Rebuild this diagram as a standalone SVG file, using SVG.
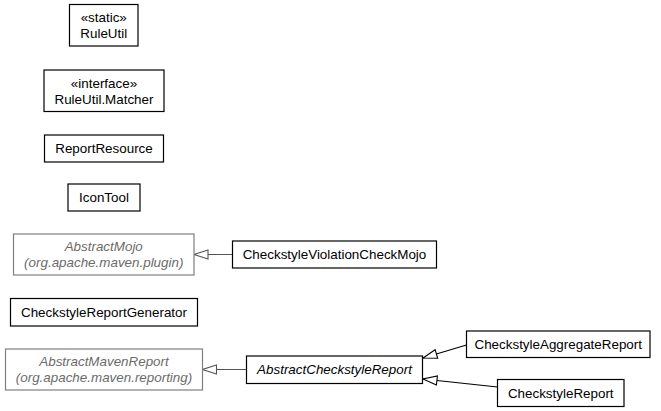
<svg xmlns="http://www.w3.org/2000/svg" width="661" height="411" viewBox="0 0 661 411">
<style>
.b{fill:#fff;stroke:#000;stroke-width:1.2}
.g{fill:#fff;stroke:#7f7f7f;stroke-width:1.2}
text{font-family:"Liberation Sans",Arial,sans-serif;font-size:13.4px;text-anchor:middle;fill:#000}
.gt{fill:#6b6b6b;font-style:italic}
.i{font-style:italic}
.e{fill:none;stroke:#000;stroke-width:1.2}
.eg{fill:none;stroke:#555;stroke-width:1.2}
</style>
<defs>
<marker id="tri" markerWidth="16" markerHeight="12" refX="15" refY="6" orient="auto" markerUnits="userSpaceOnUse">
<path d="M1,1.5 L15,6 L1,10.5 Z" fill="#fff" stroke="#000" stroke-width="1.1"/>
</marker>
<marker id="trig" markerWidth="16" markerHeight="12" refX="15" refY="6" orient="auto" markerUnits="userSpaceOnUse">
<path d="M1,1.5 L15,6 L1,10.5 Z" fill="#fff" stroke="#555" stroke-width="1.1"/>
</marker>
</defs>
<g id="edges">
<path class="eg" d="M232,254.5 L194,254.5" marker-end="url(#trig)"/>
<path class="eg" d="M246.5,369.5 L202.5,369.5" marker-end="url(#trig)"/>
<path class="e" d="M466.5,345 L423,358" marker-end="url(#tri)"/>
<path class="e" d="M497.5,387 L423,379" marker-end="url(#tri)"/>
</g>
<g id="RuleUtil"><rect class="b" x="69.5" y="4.5" width="68.5" height="41.5"/><text x="103.75" y="22">«static»</text><text x="103.75" y="38">RuleUtil</text></g>
<g id="RuleUtil.Matcher"><rect class="b" x="44" y="70" width="120" height="41.5"/><text x="104" y="87.5">«interface»</text><text x="104" y="103.5">RuleUtil.Matcher</text></g>
<g id="ReportResource"><rect class="b" x="44.5" y="135" width="119" height="27"/><text x="104" y="153">ReportResource</text></g>
<g id="IconTool"><rect class="b" x="68" y="184" width="72" height="27"/><text x="104" y="202">IconTool</text></g>
<g id="AbstractMojo"><rect class="g" x="13.5" y="234" width="180.5" height="41"/><text class="gt" x="103.75" y="251">AbstractMojo</text><text class="gt" x="103.75" y="267">(org.apache.maven.plugin)</text></g>
<g id="CheckstyleViolationCheckMojo"><rect class="b" x="232.5" y="241" width="204" height="27"/><text x="334.5" y="259">CheckstyleViolationCheckMojo</text></g>
<g id="CheckstyleReportGenerator"><rect class="b" x="10.5" y="298.5" width="187" height="27.5"/><text x="104" y="317">CheckstyleReportGenerator</text></g>
<g id="AbstractMavenReport"><rect class="g" x="5.5" y="349" width="197" height="41"/><text class="gt" x="104" y="366">AbstractMavenReport</text><text class="gt" x="104" y="382">(org.apache.maven.reporting)</text></g>
<g id="AbstractCheckstyleReport"><rect class="b" x="246.5" y="356" width="176" height="27.5"/><text class="i" x="334.5" y="374">AbstractCheckstyleReport</text></g>
<g id="CheckstyleAggregateReport"><rect class="b" x="466.5" y="331" width="183.5" height="26.5"/><text x="558.25" y="349">CheckstyleAggregateReport</text></g>
<g id="CheckstyleReport"><rect class="b" x="497.5" y="379.5" width="126.5" height="27"/><text x="560.75" y="397.5">CheckstyleReport</text></g>
</svg>
